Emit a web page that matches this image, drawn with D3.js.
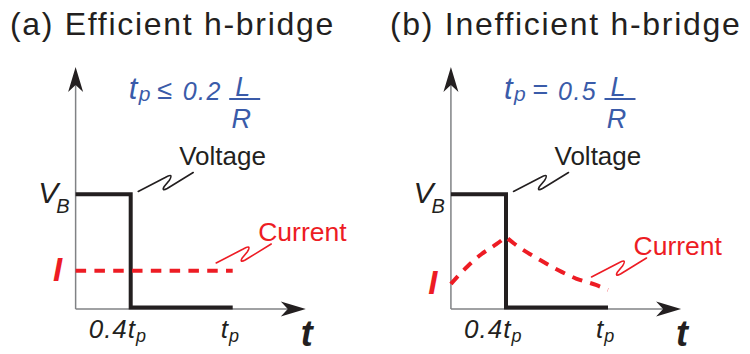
<!DOCTYPE html>
<html>
<head>
<meta charset="utf-8">
<script src="https://cdn.jsdelivr.net/npm/d3@7"></script>
<style>
  html, body { margin: 0; padding: 0; background: #fff; }
  svg { display: block; font-family: "Liberation Sans", Arial, Helvetica, sans-serif; }
</style>
</head>
<body>
<svg id="chart" width="750" height="354"></svg>
<script>
// Time is a fraction of the switching period t_p; levels are fractions of V_B.
const panelTitles = ["(a) Efficient h-bridge", "(b) Inefficient h-bridge"];
const ratioOperators = ["≤", "="];
const ratioValues = ["0.2", "0.5"];
const timeTickValues = [0.4, 1.0];
const timeTickLabels = [["0.4t", "p"], ["t", "p"]];

// Supply voltage: on until 0.4 t_p, then off
const voltageTime = [0.076, 0.4, 0.4, 1.0];
const voltageLevel = [1, 1, 0, 0];

// (a) current stays flat
const currentATime = [0.076, 1.0];
const currentALevel = [0.325, 0.325];

// (b) current rises while driven, then decays
const currentBRiseTime = [0.076, 0.112, 0.176, 0.253, 0.341, 0.4];
const currentBRiseLevel = [0.208, 0.269, 0.367, 0.468, 0.557, 0.623];
const currentBFallTime = [0.4, 0.447, 0.606, 0.706, 0.812, 0.929, 1.0];
const currentBFallLevel = [0.623, 0.565, 0.415, 0.331, 0.256, 0.199, 0.155];

const axisStart = 0.076, axisEnd = 1.43, levelTop = 2.125;

const INK = "#231f20", RED = "#ed1c24", BLUE = "#3a5ba9", AXIS = "#808285";

const svg = d3.select("#chart");

const y = d3.scaleLinear().domain([0, 1]).range([307.5, 194.3]);

const panels = [
  { origin: 62.7, titleX: 10, currentLabelY: 241,
    current: [d3.zip(currentATime, currentALevel)] },
  { origin: 438, titleX: 390, currentLabelY: 255,
    current: [d3.zip(currentBRiseTime, currentBRiseLevel), d3.zip(currentBFallTime, currentBFallLevel)] }
];

function arrowHead(g, x, yy, dir) {
  // stealth-style arrowhead; dir "right" or "up"
  const L = 25, W = 7.5, N = 7;
  const pts = dir === "right"
    ? [[x, yy], [x - L, yy - W], [x - L + N, yy], [x - L, yy + W]]
    : [[x, yy], [x - W, yy + L], [x, yy + L - N], [x + W, yy + L]];
  g.append("path").attr("d", "M" + pts.map(p => p.join(",")).join("L") + "Z").attr("fill", INK);
}

function squiggle(g, x0, y0, color) {
  g.append("path")
    .attr("transform", `translate(${x0},${y0})`)
    .attr("d", "M0,0 L27,-14 Q36,-19 31,-11 L26,-5 Q23,0 29,-3 L55,-19")
    .attr("fill", "none").attr("stroke", color).attr("stroke-width", 1.6)
    .attr("stroke-linecap", "round").attr("stroke-linejoin", "round");
}

panels.forEach((p, i) => {
  const g = svg.append("g");
  const x = d3.scaleLinear().domain([0, 1]).range([p.origin, p.origin + 170]);
  const ox = x(axisStart), oy = y(0) + 1.5;

  // title
  g.append("text").attr("x", p.titleX).attr("y", 35)
    .attr("font-size", 32).attr("letter-spacing", 1.7).attr("fill", INK)
    .text(panelTitles[i]);

  // axes
  g.append("line").attr("x1", ox).attr("y1", oy).attr("x2", x(axisEnd) - 10).attr("y2", oy)
    .attr("stroke", AXIS).attr("stroke-width", 1.5);
  g.append("line").attr("x1", ox).attr("y1", oy).attr("x2", ox).attr("y2", y(levelTop) + 10)
    .attr("stroke", AXIS).attr("stroke-width", 1.5);
  arrowHead(g, x(axisEnd), oy, "right");
  arrowHead(g, ox, y(levelTop), "up");

  // voltage trace
  const vLine = d3.line().x(d => x(d[0])).y(d => y(d[1]));
  g.append("path").attr("d", vLine(d3.zip(voltageTime, voltageLevel)))
    .attr("fill", "none").attr("stroke", INK).attr("stroke-width", 4)
    .attr("stroke-linejoin", "miter");

  // current trace (dashed)
  const cLine = d3.line().x(d => x(d[0])).y(d => y(d[1])).curve(d3.curveMonotoneX);
  const d = p.current.map((seg, k) => {
    const s = cLine(seg);
    return k === 0 ? s : s.replace(/^M/, "L");
  }).join("");
  g.append("path").attr("d", d)
    .attr("fill", "none").attr("stroke", RED).attr("stroke-width", 4)
    .attr("stroke-dasharray", "10.5 8.3");

  // V_B label
  const vb = g.append("text").attr("x", p.origin - 24.5).attr("y", y(1) + 8.7)
    .attr("font-style", "italic").attr("fill", INK);
  vb.append("tspan").attr("font-size", 30).text("V");
  vb.append("tspan").attr("font-size", 20).attr("dx", -2).attr("dy", 10).text("B");

  // I label
  const startLevel = p.current[0][0][1];
  g.append("text").attr("x", ox - 18).attr("y", y(startLevel) + 10.5)
    .attr("text-anchor", "middle").attr("font-size", 33)
    .attr("font-weight", "bold").attr("font-style", "italic").attr("fill", RED).text("I");

  // time tick labels
  timeTickValues.forEach((tv, k) => {
    const t = g.append("text")
      .attr("x", x(tv) - (k === 0 ? 42 : 12)).attr("y", 338)
      .attr("font-size", 26).attr("font-style", "italic").attr("fill", INK);
    t.append("tspan").attr("letter-spacing", 1).text(timeTickLabels[k][0]);
    t.append("tspan").attr("font-size", 18).attr("dy", 4).text(timeTickLabels[k][1]);
  });

  // axis name
  g.append("text").attr("x", p.origin + 238).attr("y", 346)
    .attr("font-size", 36).attr("font-weight", "bold").attr("font-style", "italic")
    .attr("fill", INK).text("t");

  // ratio t_p vs L/R
  const f = g.append("g").attr("fill", BLUE).attr("font-style", "italic");
  f.append("text").attr("x", p.origin + 66).attr("y", 99).attr("font-size", 31).text("t");
  f.append("text").attr("x", p.origin + 76).attr("y", 101).attr("font-size", 21).text("p");
  f.append("text").attr("x", p.origin + 94.5).attr("y", 99).attr("font-size", 27)
    .attr("font-style", "normal").text(ratioOperators[i]);
  f.append("text").attr("x", p.origin + 120).attr("y", 99.5).attr("font-size", 25)
    .attr("letter-spacing", 1.5).text(ratioValues[i]);
  f.append("text").attr("x", p.origin + 180).attr("y", 95.5).attr("font-size", 27)
    .attr("text-anchor", "middle").text("L");
  f.append("text").attr("x", p.origin + 178.5).attr("y", 128).attr("font-size", 27)
    .attr("text-anchor", "middle").text("R");
  f.append("line").attr("x1", p.origin + 166.5).attr("x2", p.origin + 197.5)
    .attr("y1", 99).attr("y2", 99).attr("stroke", BLUE).attr("stroke-width", 2);

  // annotations
  g.append("text").attr("x", p.origin + 116.5).attr("y", 165)
    .attr("font-size", 26).attr("fill", INK).text("Voltage");
  squiggle(g, p.origin + 75.5, 191.5, INK);

  const cx = p.origin + 195.5;
  g.append("text").attr("x", cx).attr("y", p.currentLabelY)
    .attr("font-size", 26.5).attr("fill", RED).text("Current");
  squiggle(g, cx - 42, p.currentLabelY + 22, RED);
});
</script>
</body>
</html>
